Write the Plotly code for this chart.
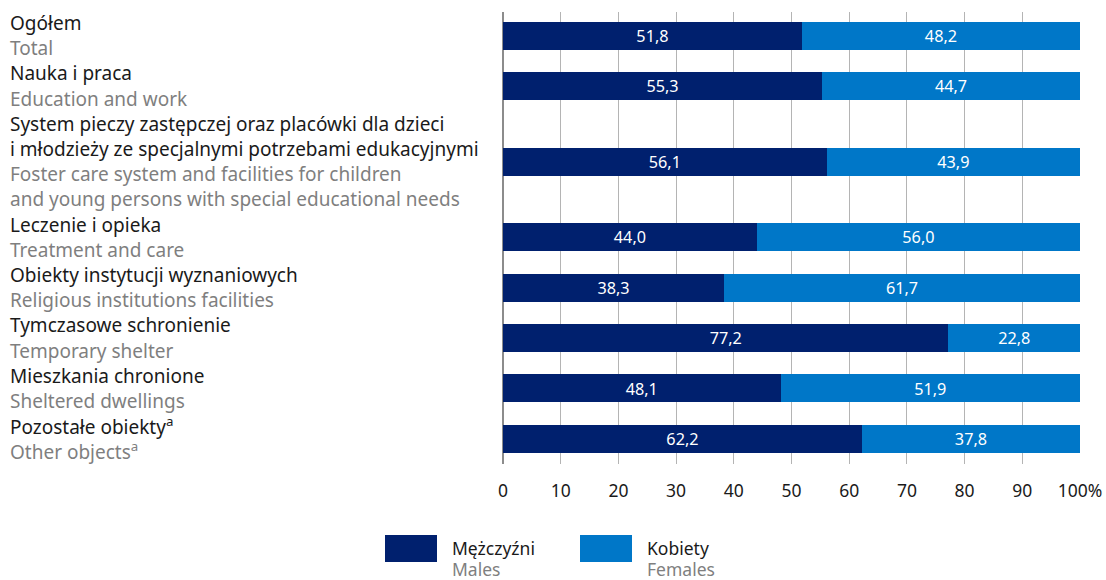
import plotly.graph_objects as go

# Category labels (Polish / English), one list entry per bar row
labels_pl = [
    "Ogółem",
    "Nauka i praca",
    "System pieczy zastępczej oraz placówki dla dzieci<br>i młodzieży ze specjalnymi potrzebami edukacyjnymi",
    "Leczenie i opieka",
    "Obiekty instytucji wyznaniowych",
    "Tymczasowe schronienie",
    "Mieszkania chronione",
    "Pozostałe obiekty<sup>a</sup>",
]
labels_en = [
    "Total",
    "Education and work",
    "Foster care system and facilities for children<br>and young persons with special educational needs",
    "Treatment and care",
    "Religious institutions facilities",
    "Temporary shelter",
    "Sheltered dwellings",
    "Other objects<sup>a</sup>",
]

males = [51.8, 55.3, 56.1, 44.0, 38.3, 77.2, 48.1, 62.2]
females = [48.2, 44.7, 43.9, 56.0, 61.7, 22.8, 51.9, 37.8]

x_ticks = [0, 10, 20, 30, 40, 50, 60, 70, 80, 90, 100]
x_ticktext = ["0", "10", "20", "30", "40", "50", "60", "70", "80", "90", "100%"]

legend_pl = ["Mężczyźni", "Kobiety"]
legend_en = ["Males", "Females"]

C_MALE = "#00206e"
C_FEMALE = "#0077c8"
C_DARK = "#1a1a1a"
C_GREY = "#7f7f7f"
FONT = "Noto Sans"
LABEL_SIZE = 19
LEGEND_SIZE = 17.5


def fmt(v):
    return f"{v:.1f}".replace(".", ",")


# Vertical layout in "text line" units: each row takes as many lines as its label
lines_per_row = []
for pl, en in zip(labels_pl, labels_en):
    lines_per_row.append(pl.count("<br>") + 1 + en.count("<br>") + 1)

row_center = []
line_y = []  # (y, text, color) for every label line
cursor = 0
for pl, en, n in zip(labels_pl, labels_en, lines_per_row):
    row_center.append(cursor + (n - 1) / 2)
    for part in pl.split("<br>"):
        line_y.append((cursor, part, C_DARK))
        cursor += 1
    for part in en.split("<br>"):
        line_y.append((cursor, part, C_GREY))
        cursor += 1

bar_width = 1.11

# Figure geometry (pixels)
W, H = 1106, 580
M_L, M_R, M_T, M_B = 503, 26, 12, 116
PW = W - M_L - M_R
PH = H - M_T - M_B


def px_x(px):
    return (px - M_L) / PW


def px_y(py):
    return (H - M_B - py) / PH


fig = go.Figure()
for vals, name, col in [(males, legend_pl[0], C_MALE), (females, legend_pl[1], C_FEMALE)]:
    fig.add_trace(go.Bar(
        y=row_center, x=vals, orientation="h", name=name,
        marker=dict(color=col, line=dict(width=0)), width=bar_width,
        text=[fmt(v) for v in vals], textposition="inside", insidetextanchor="middle",
        textfont=dict(color="white", size=17, family=FONT),
        hoverinfo="x+name",
    ))

annotations = []
for y, txt, col in line_y:
    annotations.append(dict(
        xref="paper", yref="y", x=px_x(8), y=y, xanchor="left", yanchor="middle",
        text=txt, showarrow=False, font=dict(size=LABEL_SIZE, color=col, family=FONT),
    ))

# Legend: swatches and two-line captions below the plot
shapes = []
sw_x = [385, 580]
txt_x = [450, 645]
for i, col in enumerate([C_MALE, C_FEMALE]):
    shapes.append(dict(type="rect", xref="paper", yref="paper",
                       x0=px_x(sw_x[i]), x1=px_x(sw_x[i] + 52),
                       y0=px_y(535), y1=px_y(562),
                       fillcolor=col, line=dict(width=0)))
    annotations.append(dict(xref="paper", yref="paper", x=px_x(txt_x[i]), y=px_y(548),
                            xanchor="left", yanchor="middle",
                            text=legend_pl[i], showarrow=False,
                            font=dict(size=LEGEND_SIZE, color=C_DARK, family=FONT)))
    annotations.append(dict(xref="paper", yref="paper", x=px_x(txt_x[i]), y=px_y(569),
                            xanchor="left", yanchor="middle",
                            text=legend_en[i], showarrow=False,
                            font=dict(size=LEGEND_SIZE, color=C_GREY, family=FONT)))

total_lines = sum(lines_per_row)
fig.update_layout(
    barmode="stack",
    width=W, height=H,
    margin=dict(l=M_L, r=M_R, t=M_T, b=M_B, autoexpand=False),
    paper_bgcolor="white", plot_bgcolor="white",
    showlegend=False,
    font=dict(family=FONT, color=C_DARK),
    xaxis=dict(
        range=[0, 100], tickvals=x_ticks, ticktext=x_ticktext,
        automargin=False,
        showgrid=True, gridcolor="#b4b4b4", gridwidth=1,
        zeroline=True, zerolinecolor="#8c8c8c", zerolinewidth=1.5,
        ticks="outside", ticklen=11, tickcolor="rgba(0,0,0,0)",
        tickfont=dict(size=17.5, color=C_DARK, family=FONT),
        showline=False,
    ),
    yaxis=dict(
        range=[total_lines - 0.5, -0.44], showticklabels=False,
        showgrid=False, zeroline=False, ticks="", automargin=False,
    ),
    annotations=annotations,
    shapes=shapes,
)

fig.write_html("out.html")
